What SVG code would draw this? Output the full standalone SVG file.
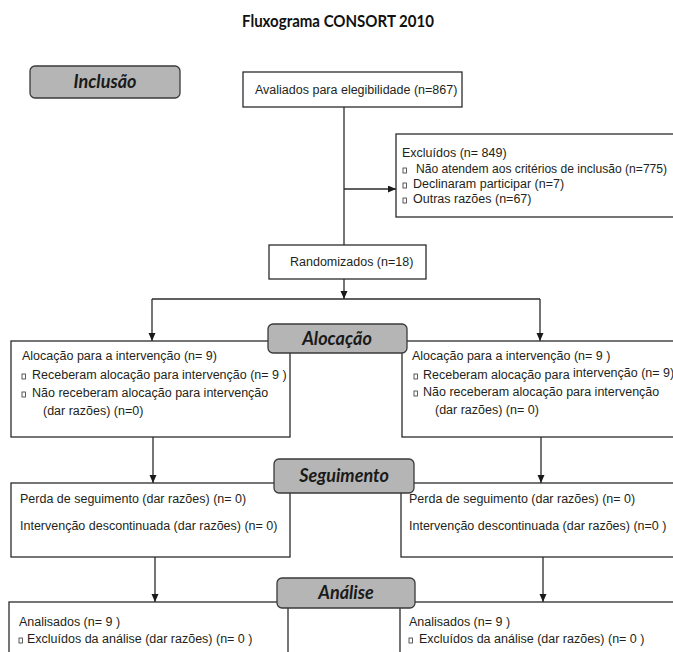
<svg xmlns="http://www.w3.org/2000/svg" width="673" height="652" viewBox="0 0 673 652">
<style>
.box{fill:#fff;stroke:#2b2b2b;stroke-width:1.3}
.stage{fill:#b5b5b5;stroke:#3a3a3a;stroke-width:1.3}
.t{font-family:"Liberation Sans",Arial,sans-serif;font-size:12.5px;fill:#231f20}
.st{font-family:Lato,"Open Sans",sans-serif;font-weight:bold;font-style:italic;font-size:18px;fill:#1a1a1a;text-anchor:middle}
.title{font-family:Lato,"Open Sans",sans-serif;font-weight:bold;font-size:17px;fill:#111;text-anchor:middle}
.c{stroke:#2b2b2b;stroke-width:1.3;fill:none}
.bul{fill:#fff;stroke:#333;stroke-width:0.8}
</style>
<defs>
<marker id="ah" markerUnits="userSpaceOnUse" markerWidth="8" markerHeight="8" refX="8" refY="3.5" orient="auto">
<path d="M0,0 L8,3.5 L0,7 z" fill="#1a1a1a"/>
</marker>
</defs>
<rect width="673" height="652" fill="#fff"/>
<text class="title" x="338" y="27" textLength="192" lengthAdjust="spacingAndGlyphs">Fluxograma CONSORT 2010</text>

<g id="connectors">
<line class="c" x1="344" y1="107" x2="344" y2="245"/>
<line class="c" x1="344" y1="189" x2="396" y2="189" marker-end="url(#ah)"/>
<line class="c" x1="344" y1="279" x2="344" y2="299" marker-end="url(#ah)"/>
<line class="c" x1="152" y1="299" x2="540" y2="299"/>
<line class="c" x1="152" y1="299" x2="152" y2="341" marker-end="url(#ah)"/>
<line class="c" x1="540" y1="299" x2="540" y2="341" marker-end="url(#ah)"/>
<line class="c" x1="153" y1="437" x2="153" y2="483" marker-end="url(#ah)"/>
<line class="c" x1="541" y1="437" x2="541" y2="483" marker-end="url(#ah)"/>
<line class="c" x1="155" y1="557" x2="155" y2="602" marker-end="url(#ah)"/>
<line class="c" x1="543" y1="557" x2="543" y2="602" marker-end="url(#ah)"/>
</g>

<g id="avaliados">
<rect class="box" x="243" y="72" width="219" height="35"/>
<text class="t" x="255" y="94">Avaliados para elegibilidade (n=867)</text>
</g>

<g id="excluidos">
<rect class="box" x="396" y="134" width="300" height="83"/>
<text class="t" x="402" y="157">Excluídos (n= 849)</text>
<rect class="bul" x="403" y="168" width="3.5" height="5"/>
<text class="t" x="416" y="173" style="font-size:12.1px">Não atendem aos critérios de inclusão (n=775)</text>
<rect class="bul" x="403" y="183" width="3.5" height="5"/>
<text class="t" x="413" y="188">Declinaram participar (n=7)</text>
<rect class="bul" x="403" y="198" width="3.5" height="5"/>
<text class="t" x="413" y="203">Outras razões (n=67)</text>
</g>

<g id="randomizados">
<rect class="box" x="269" y="245" width="157" height="34"/>
<text class="t" x="290" y="266">Randomizados (n=18)</text>
</g>

<g id="alocacao-esq">
<rect class="box" x="11" y="341" width="279" height="96"/>
<text class="t" x="22" y="360">Alocação para a intervenção (n= 9)</text>
<rect class="bul" x="22" y="374" width="3.5" height="5"/>
<text class="t" x="32" y="379">Receberam alocação para intervenção (n= 9 )</text>
<rect class="bul" x="22" y="392" width="3.5" height="5"/>
<text class="t" x="32" y="397">Não receberam alocação para intervenção</text>
<text class="t" x="43" y="415">(dar razões) (n=0)</text>
</g>

<g id="alocacao-dir">
<rect class="box" x="402" y="341" width="300" height="96"/>
<text class="t" x="412" y="360">Alocação para a intervenção (n= 9 )</text>
<rect class="bul" x="414" y="374" width="3.5" height="5"/>
<text class="t" x="423" y="379">Receberam alocação para <tspan dy="-2.5">intervenção (n=  9)</tspan></text>
<rect class="bul" x="414" y="391" width="3.5" height="5"/>
<text class="t" x="423" y="396">Não receberam alocação para intervenção</text>
<text class="t" x="435" y="414">(dar razões) (n= 0)</text>
</g>

<g id="seguimento-esq">
<rect class="box" x="11" y="483" width="279" height="74"/>
<text class="t" x="20" y="503">Perda de seguimento (dar razões) (n= 0)</text>
<text class="t" x="20" y="530">Intervenção descontinuada (dar razões) (n= 0)</text>
</g>

<g id="seguimento-dir">
<rect class="box" x="401" y="483" width="300" height="74"/>
<text class="t" x="409" y="503">Perda de seguimento (dar razões) (n= 0)</text>
<text class="t" x="409" y="530">Intervenção descontinuada (dar razões) (n=0 )</text>
</g>

<g id="analise-esq">
<rect class="box" x="9" y="602" width="279" height="80"/>
<text class="t" x="19" y="626">Analisados (n= 9 )</text>
<rect class="bul" x="19" y="638" width="3.5" height="5"/>
<text class="t" x="27" y="643">Excluídos da análise (dar razões) (n= 0 )</text>
</g>

<g id="analise-dir">
<rect class="box" x="400" y="602" width="300" height="80"/>
<text class="t" x="409" y="626">Analisados (n= 9 )</text>
<rect class="bul" x="409" y="638" width="3.5" height="5"/>
<text class="t" x="419" y="643">Excluídos da análise (dar razões) (n= 0 )</text>
</g>

<g id="inclusao">
<rect class="stage" x="30" y="66" width="150" height="32" rx="5"/>
<text class="st" x="105" y="88">Inclusão</text>
</g>
<g id="alocacao">
<rect class="stage" x="268" y="324" width="139" height="29" rx="5"/>
<text class="st" x="337" y="345">Alocação</text>
</g>
<g id="seguimento">
<rect class="stage" x="274" y="459" width="140" height="34" rx="5"/>
<text class="st" x="344" y="482">Seguimento</text>
</g>
<g id="analise">
<rect class="stage" x="277" y="578" width="138" height="30" rx="5"/>
<text class="st" x="346" y="599">Análise</text>
</g>
</svg>
